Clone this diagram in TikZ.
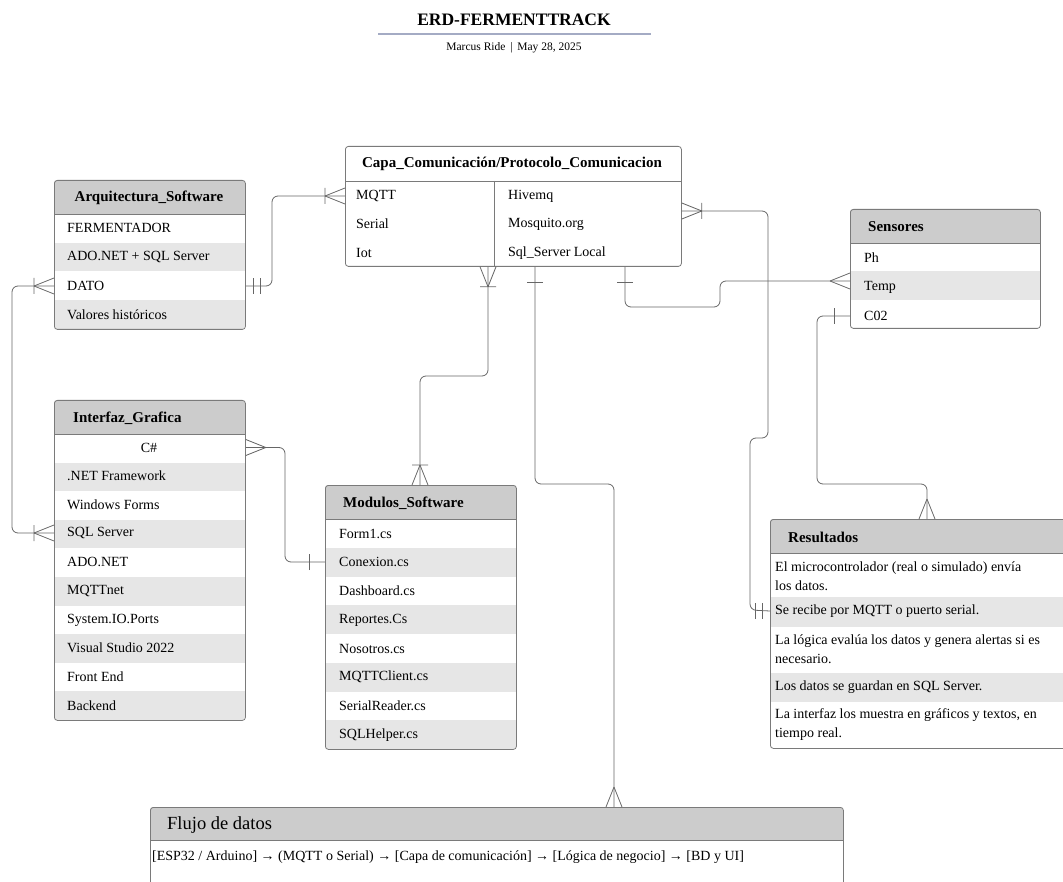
\documentclass[tikz,border=0pt]{standalone}
\usepackage{fontspec}
\setmainfont{Liberation Serif}
\usetikzlibrary{calc}
\definecolor{hdr}{HTML}{CCCCCC}
\definecolor{alt}{HTML}{E6E6E6}
\definecolor{boxc}{HTML}{7A7A7A}
\definecolor{linec}{HTML}{666666}
\definecolor{rulec}{HTML}{A4ABC4}
\newcommand\cellsize{\fontsize{14}{19}\selectfont}
\newcommand\headsize{\bfseries\fontsize{15}{18}\selectfont}

\begin{document}
\begin{tikzpicture}[x=1pt,y=-1pt,
  conn/.style={draw=linec, line width=0.8pt, rounded corners=6pt},
  tip/.style={draw=linec, line width=0.8pt},
  frame/.style={draw=boxc, line width=0.8pt, rounded corners=3pt, inner sep=0pt, anchor=north west},
  sep/.style={draw=boxc, line width=0.8pt},
  cell/.style={anchor=west, inner sep=0pt, font=\cellsize, align=left},
  head/.style={anchor=west, inner sep=0pt, font=\headsize},
  toR/.style={x={(1pt,0pt)},y={(0pt,1pt)}},
  toL/.style={x={(-1pt,0pt)},y={(0pt,1pt)}},
  toU/.style={x={(0pt,1pt)},y={(1pt,0pt)}},
  toD/.style={x={(0pt,-1pt)},y={(1pt,0pt)}},
  pics/many/.style={code={\draw[tip] (20,0)--(0,8) (20,0)--(0,-8);}},
  pics/onemany/.style={code={\draw[tip] (20,0)--(0,8) (20,0)--(0,-8) (20,-8)--(20,8);}},
  pics/one/.style={code={\draw[tip] (16,-8)--(16,8);}},
  pics/onlyone/.style={code={\draw[tip] (8,-8)--(8,8) (15,-8)--(15,8);}},
]
\useasboundingbox (0,0) rectangle (1063,882);
\clip (0,0) rectangle (1063,882);

% ---------- title block ----------
\node[inner sep=0pt, font=\bfseries\fontsize{17.5}{20}\selectfont] (title) at (514,20) {ERD-FERMENTTRACK};
\draw[rulec, line width=1.2pt] (378,34) -- (651,34);
\node[inner sep=0pt, font=\fontsize{11.5}{13}\selectfont] (sub) at (514,48) {Marcus Ride \,|\, May 28, 2025};

% ---------- Capa_Comunicación/Protocolo_Comunicacion ----------
\node[frame, fill=white, minimum width=336, minimum height=120] (capa) at (345,146) {};
\draw[sep] (345,181) -- (681,181) (494,181) -- (494,266);
\node[anchor=center, inner sep=0pt, font=\headsize] (capaH) at (512,164) {Capa\_Comunicación/Protocolo\_Comunicacion};
\node[cell] (cMqtt)   at (356,196) {MQTT};
\node[cell] (cSerial) at (356,224) {Serial};
\node[cell] (cIot)    at (356,253) {Iot};
\node[cell] (cHive)   at (508,196) {Hivemq};
\node[cell] (cMosq)   at (508,224) {Mosquito.org};
\node[cell] (cSql)    at (508,253) {Sql\_Server Local};

% ---------- Arquitectura_Software ----------
\begin{scope}
  \clip[rounded corners=3pt] (54,180) rectangle (245,329);
  \fill[hdr] (54,180) rectangle (245,214);
  \fill[alt] (54,243) rectangle (245,271.5);
  \fill[alt] (54,300) rectangle (245,329);
\end{scope}
\node[frame, minimum width=191, minimum height=149] (arq) at (54,180) {};
\draw[sep] (54,214) -- (245,214);
\node[anchor=center, inner sep=0pt, font=\headsize] (arqH) at (149,198) {Arquitectura\_Software};
\node[cell] (aFer)  at (67,228) {FERMENTADOR};
\node[cell] (aAdo)  at (67,257) {ADO.NET + SQL Server};
\node[cell] (aDato) at (67,286) {DATO};
\node[cell] (aVal)  at (67,315) {Valores históricos};

% ---------- Sensores ----------
\begin{scope}
  \clip[rounded corners=3pt] (850,209) rectangle (1040,328);
  \fill[hdr] (850,209) rectangle (1040,243);
  \fill[alt] (850,271.5) rectangle (1040,300);
\end{scope}
\node[frame, minimum width=190, minimum height=119] (sen) at (850,209) {};
\draw[sep] (850,243) -- (1040,243);
\node[head] (senH) at (868,227) {Sensores};
\node[cell] (sPh)   at (864,258) {Ph};
\node[cell] (sTemp) at (864,287) {Temp};
\node[cell] (sCo)   at (864,316) {C02};

% ---------- Interfaz_Grafica ----------
\begin{scope}
  \clip[rounded corners=3pt] (54,400) rectangle (245,720);
  \fill[hdr] (54,400) rectangle (245,434);
  \foreach \i in {1,3,5,7,9} \fill[alt] (54,434+28.6*\i) rectangle (245,434+28.6*\i+28.6);
\end{scope}
\node[frame, minimum width=191, minimum height=320] (gui) at (54,400) {};
\draw[sep] (54,434) -- (245,434);
\node[head] (guiH) at (73,418) {Interfaz\_Grafica};
\node[anchor=center, inner sep=0pt, font=\cellsize] (gCs) at (149,447.5) {C\#};
\node[cell] (gNet)  at (67,476) {.NET Framework};
\node[cell] (gWin)  at (67,505) {Windows Forms};
\node[cell] (gSql)  at (67,533) {SQL Server};
\node[cell] (gAdo)  at (67,562) {ADO.NET};
\node[cell] (gMq)   at (67,591) {MQTTnet};
\node[cell] (gIo)   at (67,620) {System.IO.Ports};
\node[cell] (gVs)   at (67,648) {Visual Studio 2022};
\node[cell] (gFe)   at (67,677) {Front End};
\node[cell] (gBe)   at (67,706) {Backend};

% ---------- Modulos_Software ----------
\begin{scope}
  \clip[rounded corners=3pt] (325,485) rectangle (516,749);
  \fill[hdr] (325,485) rectangle (516,519);
  \foreach \i in {1,3,5,7} \fill[alt] (325,519+28.75*\i) rectangle (516,519+28.75*\i+28.75);
\end{scope}
\node[frame, minimum width=191, minimum height=264] (mod) at (325,485) {};
\draw[sep] (325,519) -- (516,519);
\node[head] (modH) at (343,503) {Modulos\_Software};
\node[cell] (mForm) at (339,534) {Form1.cs};
\node[cell] (mCon)  at (339,562) {Conexion.cs};
\node[cell] (mDash) at (339,591) {Dashboard.cs};
\node[cell] (mRep)  at (339,620) {Reportes.Cs};
\node[cell] (mNos)  at (339,649) {Nosotros.cs};
\node[cell] (mMq)   at (339,677) {MQTTClient.cs};
\node[cell] (mSer)  at (339,706) {SerialReader.cs};
\node[cell] (mSql)  at (339,735) {SQLHelper.cs};

% ---------- Resultados ----------
\begin{scope}
  \clip[rounded corners=3pt] (770,519) rectangle (1080,748);
  \fill[hdr] (770,519) rectangle (1080,553);
  \fill[alt] (770,597) rectangle (1080,627);
  \fill[alt] (770,673) rectangle (1080,702);
\end{scope}
\node[frame, minimum width=310, minimum height=229] (res) at (770,519) {};
\draw[sep] (770,553) -- (1080,553);
\node[head] (resH) at (788,537) {Resultados};
\node[cell] (r1) at (775,576) {El microcontrolador (real o simulado) envía\\los datos.};
\node[cell] (r2) at (775,611) {Se recibe por MQTT o puerto serial.};
\node[cell] (r3) at (775,649) {La lógica evalúa los datos y genera alertas si es\\necesario.};
\node[cell] (r4) at (775,687) {Los datos se guardan en SQL Server.};
\node[cell] (r5) at (775,725) {La interfaz los muestra en gráficos y textos, en\\tiempo real.};

% ---------- Flujo de datos ----------
\begin{scope}
  \clip[rounded corners=3pt] (150,807) rectangle (843,900);
  \fill[hdr] (150,807) rectangle (843,840);
\end{scope}
\node[frame, minimum width=693, minimum height=93] (flu) at (150,807) {};
\draw[sep] (150,840) -- (843,840);
\node[anchor=west, inner sep=0pt, font=\fontsize{18.5}{21}\selectfont] (fluH) at (167,825) {Flujo de datos};
\node[anchor=west, inner sep=0pt, font=\fontsize{14}{16}\selectfont] (fluT) at (152,857) {[ESP32 / Arduino] → (MQTT o Serial) → [Capa de comunicación] → [Lógica de negocio] → [BD y UI]};

% ---------- relationships ----------
% Arquitectura (DATO) -- Capa
\draw[conn] (arq.east |- aDato) -- (272,286) -- (272,196) -- (capa.west |- cMqtt);
\path (arq.east |- aDato) pic[toR] {onlyone};
\path (capa.west |- cMqtt) pic[toL] {onemany};

% Arquitectura (DATO) -- Interfaz (SQL Server)
\draw[conn] (arq.west |- aDato) -- (12,286) -- (12,533) -- (gui.west |- gSql);
\path (arq.west |- aDato) pic[toL] {onemany};
\path (gui.west |- gSql) pic[toL] {onemany};

% Interfaz (C#) -- Modulos (Conexion.cs)
\draw[conn] (gui.east |- gCs) -- (285,447.5) -- (285,562) -- (mod.west |- mCon);
\path (gui.east |- gCs) pic[toR] {many};
\path (mod.west |- mCon) pic[toL] {one};

% Capa -- Modulos
\coordinate (capaB1) at (capa.south -| 488,0);
\coordinate (modT) at (mod.north -| 420,0);
\draw[conn] (capaB1) -- (488,376) -- (420,376) -- (modT);
\path (capaB1) pic[toD] {onemany};
\path (modT) pic[toU] {onemany};

% Capa -- Flujo de datos
\coordinate (capaB2) at (capa.south -| 535,0);
\coordinate (fluT0) at (flu.north -| 614,0);
\draw[conn] (capaB2) -- (535,484) -- (614,484) -- (fluT0);
\path (capaB2) pic[toD] {one};
\path (fluT0) pic[toU] {many};

% Capa -- Sensores (Temp)
\coordinate (capaB3) at (capa.south -| 625,0);
\coordinate (senT) at (sen.west |- 0,281);
\draw[conn] (capaB3) -- (625,307) -- (720,307) -- (720,281) -- (senT);
\path (capaB3) pic[toD] {one};
\path (senT) pic[toL] {many};

% Capa -- Resultados
\coordinate (capaR) at (capa.east |- 0,211);
\draw[conn] (capaR) -- (768,211) -- (768,438) -- (750,438) -- (750,610) -- (res.west |- r2);
\path (capaR) pic[toR] {onemany};
\path (res.west |- r2) pic[toL] {onlyone};

% Sensores (C02) -- Resultados
\coordinate (resT) at (res.north -| 927,0);
\draw[conn] (sen.west |- sCo) -- (817,316) -- (817,484) -- (927,484) -- (resT);
\path (sen.west |- sCo) pic[toL] {one};
\path (resT) pic[toU] {many};
\end{tikzpicture}
\end{document}
